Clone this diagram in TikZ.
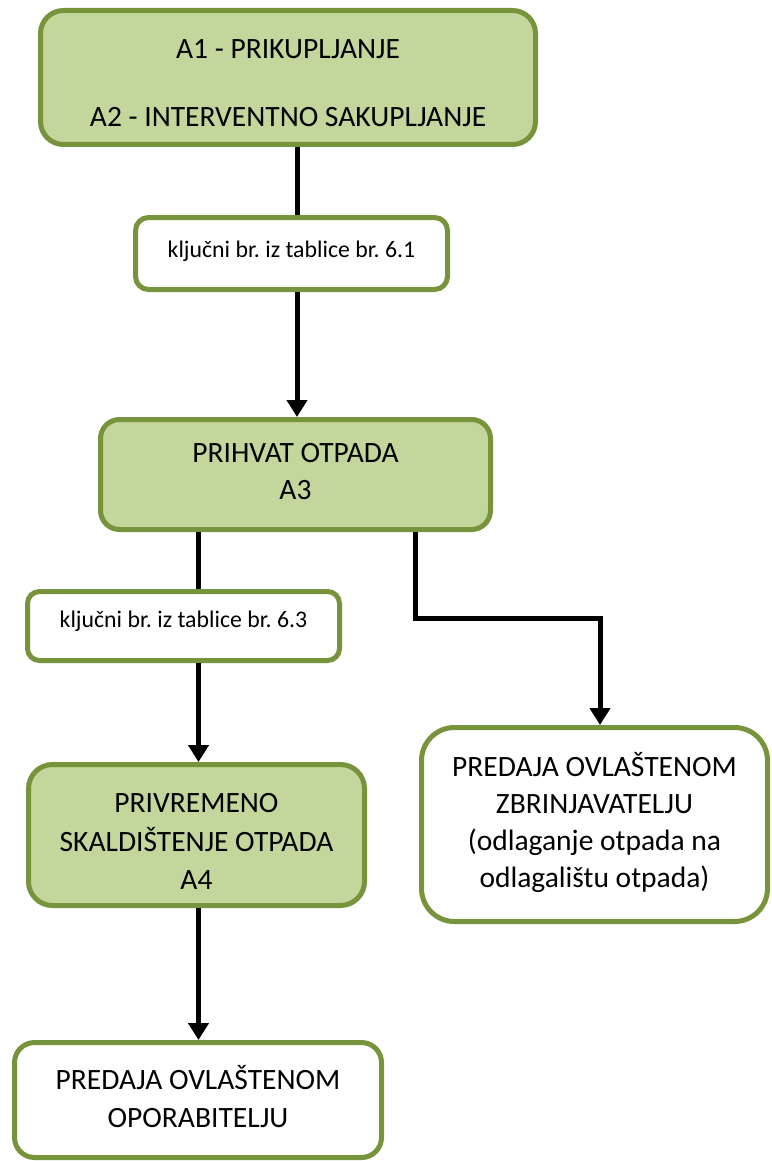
\documentclass[tikz,border=0pt]{standalone}
\usepackage{fontspec}
\setmainfont{Carlito}
\frenchspacing
\usetikzlibrary{arrows.meta}
\definecolor{boxfill}{HTML}{C3D69B}
\definecolor{boxline}{HTML}{77933C}
\tikzset{
  flowbox/.style={draw=boxline, line width=5pt, inner sep=0pt},
  greenbox/.style={flowbox, fill=boxfill},
  whitebox/.style={flowbox, fill=white},
  bigtext/.style={align=center, inner sep=0pt, text=black, font=\fontsize{29.5pt}{37.5pt}\selectfont},
  smalltext/.style={align=center, inner sep=0pt, text=black, font=\fontsize{23.8pt}{29pt}\selectfont},
  arr/.style={draw=black, line width=5pt, -{Triangle[width=20pt,length=17pt]}},
  conn/.style={draw=black, line width=5pt}
}
\begin{document}
\begin{tikzpicture}[x=1pt, y=-1pt]
\useasboundingbox (0,0) rectangle (771,1161);
% boxes
\node[greenbox, minimum width=495pt, minimum height=134pt, rounded corners=23pt] (b1) at (288,77.5) {};
\node[whitebox, minimum width=312pt, minimum height=72pt, rounded corners=13pt] (b2) at (291.5,253.5) {};
\node[greenbox, minimum width=390pt, minimum height=110pt, rounded corners=19pt] (b3) at (295.5,474.5) {};
\node[whitebox, minimum width=312pt, minimum height=69pt, rounded corners=12pt] (b4) at (183.5,626) {};
\node[greenbox, minimum width=336pt, minimum height=141pt, rounded corners=24pt] (b5) at (196.5,835) {};
\node[whitebox, minimum width=346pt, minimum height=194pt, rounded corners=33pt] (b6) at (594.5,824.5) {};
\node[whitebox, minimum width=367pt, minimum height=115pt, rounded corners=20pt] (b7) at (198,1100) {};
% texts
\node[bigtext] (t1a) at (288,49) {A1 - PRIKUPLJANJE};
\node[bigtext] (t1b) at (288,117) {A2 - INTERVENTNO SAKUPLJANJE};
\node[smalltext] (t2) at (291.5,251) {klju\v{c}ni br. iz tablice br. 6.1};
\node[bigtext] (t3) at (295.5,471.5) {PRIHVAT OTPADA\\A3};
\node[smalltext] (t4) at (183.5,621) {klju\v{c}ni br. iz tablice br. 6.3};
\node[bigtext, font=\fontsize{29.5pt}{38.5pt}\selectfont] (t5) at (196.5,841.5) {PRIVREMENO\\SKALDI\v{S}TENJE OTPADA\\A4};
\node[bigtext, font=\fontsize{29.5pt}{37pt}\selectfont] (t6) at (594.5,822.5) {PREDAJA OVLA\v{S}TENOM\\ZBRINJAVATELJU\\(odlaganje otpada na\\odlagali\v{s}tu otpada)};
\node[bigtext] (t7) at (198,1096.5) {PREDAJA OVLA\v{S}TENOM\\OPORABITELJU};
% connectors
\coordinate (xa) at (297,0);
\coordinate (xb) at (198.5,0);
\coordinate (xc) at (415,0);
\coordinate (xd) at (600,0);
\coordinate (bend) at (415,618);
\coordinate (bend2) at (600,618);
\draw[conn] (b1.south -| xa) -- (b2.north -| xa);
\draw[arr] (b2.south -| xa) -- (b3.north -| xa);
\draw[conn] (b3.south -| xb) -- (b4.north -| xb);
\draw[arr] (b4.south -| xb) -- (b5.north -| xb);
\draw[arr] (b5.south -| xb) -- (b7.north -| xb);
\draw[arr, line join=miter] (b3.south -| xc) -- (bend) -- (bend2) -- (b6.north -| xd);
\end{tikzpicture}
\end{document}
